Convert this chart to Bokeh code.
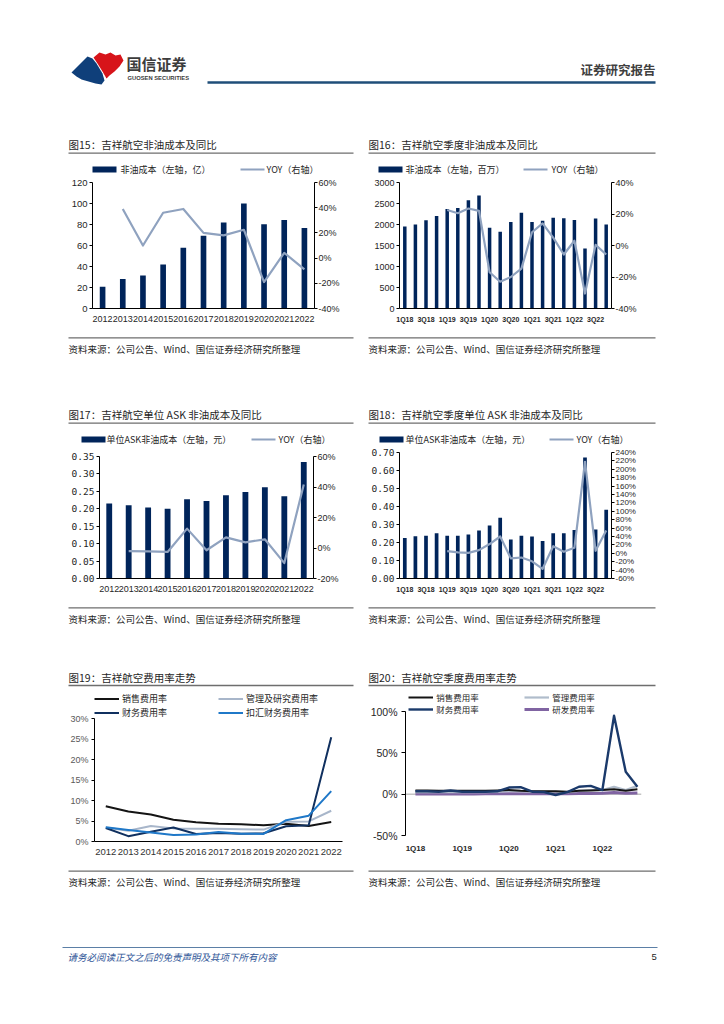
from bokeh.plotting import figure
from bokeh.models import (Range1d, LinearAxis, FixedTicker, NumeralTickFormatter, Legend,
                          LegendItem, FactorRange, Span, ColumnDataSource, Spacer)
from bokeh.layouts import column, row
from bokeh.embed import file_html
from bokeh.resources import INLINE
from bokeh.core.properties import value

NAN = float("nan")

# ---------------- data ----------------
years = ["2012", "2013", "2014", "2015", "2016", "2017", "2018", "2019", "2020", "2021", "2022"]
quarters = ["1Q18", "2Q18", "3Q18", "4Q18", "1Q19", "2Q19", "3Q19", "4Q19", "1Q20", "2Q20",
            "3Q20", "4Q20", "1Q21", "2Q21", "3Q21", "4Q21", "1Q22", "2Q22", "3Q22", "4Q22"]

# Fig 15: annual non-oil cost (100m yuan) and YoY
nonoil_cost_annual = [20.7, 28.0, 31.4, 41.8, 57.9, 69.2, 82.0, 100.0, 80.2, 84.3, 76.7]
nonoil_cost_annual_yoy = [NAN, 0.39, 0.10, 0.36, 0.39, 0.20, 0.18, 0.225, -0.19, 0.042, -0.09]

# Fig 16: quarterly non-oil cost (million yuan) and YoY
nonoil_cost_q = [1950, 2000, 2100, 2200, 2370, 2390, 2580, 2690, 1920, 1830,
                 2060, 2280, 2060, 2090, 2160, 2150, 2110, 1430, 2140, 2000]
nonoil_cost_q_yoy = [NAN, NAN, NAN, NAN, 0.225, 0.205, 0.235, 0.22, -0.17, -0.23,
                     -0.20, -0.147, 0.084, 0.14, 0.05, -0.057, 0.03, -0.305, 0.004, -0.057]

# Fig 17: annual unit ASK non-oil cost (yuan) and YoY
ask_cost_annual = [0.215, 0.210, 0.204, 0.200, 0.227, 0.222, 0.239, 0.248, 0.262, 0.236, 0.334]
ask_cost_annual_yoy = [NAN, -0.02, -0.022, -0.026, 0.127, -0.015, 0.07, 0.037, 0.057, -0.099, 0.416]

# Fig 18: quarterly unit ASK non-oil cost (yuan) and YoY
ask_cost_q = [0.225, 0.235, 0.238, 0.251, 0.238, 0.238, 0.244, 0.266, 0.294, 0.337,
              0.216, 0.238, 0.233, 0.209, 0.251, 0.251, 0.270, 0.672, 0.272, 0.382]
ask_cost_q_yoy = [NAN, NAN, NAN, NAN, 0.05, 0.02, 0.01, 0.075, 0.22, 0.40,
                  -0.12, -0.10, -0.19, -0.37, 0.17, 0.036, 0.13, 2.18, 0.06, 0.545]

# Fig 19: annual expense ratios
sales_rate = [0.086, 0.073, 0.066, 0.053, 0.047, 0.0435, 0.042, 0.0395, 0.043, 0.038, 0.0475]
admin_rd_rate = [0.034, 0.026, 0.038, 0.032, 0.031, 0.031, 0.030, 0.029, 0.048, 0.049, 0.075]
fin_rate = [0.033, 0.013, 0.024, 0.034, 0.0185, 0.021, 0.019, 0.020, 0.037, 0.0395, 0.254]
fin_ex_fx_rate = [0.035, 0.028, 0.022, 0.016, 0.017, 0.023, 0.019, 0.0185, 0.052, 0.063, 0.123]

# Fig 20: quarterly expense ratios
q_sales_rate = [0.045, 0.045, 0.04, 0.04, 0.04, 0.04, 0.04, 0.045, 0.05, 0.04,
                0.035, 0.035, 0.035, 0.03, 0.04, 0.045, 0.05, 0.06, 0.04, 0.06]
q_admin_rate = [0.025, 0.025, 0.025, 0.025, 0.025, 0.025, 0.025, 0.03, 0.04, 0.035,
                0.03, 0.03, 0.03, 0.025, 0.04, 0.05, 0.05, 0.09, 0.05, 0.10]
q_fin_rate = [0.035, 0.035, 0.03, 0.045, 0.03, 0.03, 0.03, 0.035, 0.08, 0.085,
              0.03, 0.025, -0.01, 0.025, 0.09, 0.10, 0.05, 0.95, 0.27, 0.09]
q_rd_rate = [0.002, 0.002, 0.003, 0.003, 0.003, 0.003, 0.004, 0.004, 0.005, 0.005,
             0.005, 0.005, 0.006, 0.006, 0.007, 0.008, 0.01, 0.02, 0.01, 0.015]

left_ticks_15 = [0, 20, 40, 60, 80, 100, 120]
right_ticks_15 = [-0.4, -0.2, 0, 0.2, 0.4, 0.6]
left_ticks_16 = [0, 500, 1000, 1500, 2000, 2500, 3000]
right_ticks_16 = [-0.4, -0.2, 0, 0.2, 0.4]
left_ticks_17 = [0, 0.05, 0.10, 0.15, 0.20, 0.25, 0.30, 0.35]
right_ticks_17 = [-0.2, 0, 0.2, 0.4, 0.6]
left_ticks_18 = [0, 0.1, 0.2, 0.3, 0.4, 0.5, 0.6, 0.7]
right_ticks_18 = [-0.6, -0.4, -0.2, 0, 0.2, 0.4, 0.6, 0.8, 1.0, 1.2, 1.4, 1.6, 1.8, 2.0, 2.2, 2.4]
ticks_19 = [0, 0.05, 0.10, 0.15, 0.20, 0.25, 0.30]
ticks_20 = [-0.5, 0, 0.5, 1.0]

titles = ["图15：吉祥航空非油成本及同比", "图16：吉祥航空季度非油成本及同比",
          "图17：吉祥航空单位 ASK 非油成本及同比", "图18：吉祥航空季度单位 ASK 非油成本及同比",
          "图19：吉祥航空费用率走势", "图20：吉祥航空季度费用率走势"]
bar_labels = ["非油成本（左轴，亿）", "非油成本（左轴，百万）",
              "单位ASK非油成本（左轴，元）", "单位ASK非油成本（左轴，元）"]
YOY_LABEL = "YOY（右轴）"
SOURCE = "资料来源：公司公告、Wind、国信证券经济研究所整理"
FOOTNOTE = "请务必阅读正文之后的免责声明及其项下所有内容"

# ---------------- style ----------------
NAVY = "#00245a"
YOYC = "#8fa2bf"
AXC = "#000000"
TXT = "#1f1f1f"
RULE = "#6e6e6e"
CJK = "Noto Sans CJK SC"
LAT = "Liberation Sans"
MONO = "DejaVu Sans Mono"
LX, RX = 68, 368          # left edge of left / right panel texts
LR, RR = 353, 655         # right end of left / right panel rules


def deco(y0, h):
    p = figure(width=708, height=h, x_range=Range1d(0, 708), y_range=Range1d(y0 + h, y0),
               output_backend="svg", toolbar_location=None, min_border=0,
               x_axis_location=None, y_axis_location=None)
    p.xgrid.visible = False
    p.ygrid.visible = False
    p.outline_line_color = None
    return p


def txt(p, x, y, s, size, color=TXT, font=CJK, style="normal", align="left"):
    p.text(x=[x], y=[y], text=[s], text_font=value(font), text_font_size=size,
           text_color=color, text_font_style=style, text_align=align, text_baseline="middle")


def hline(p, x0, x1, y, color=RULE, width=1.3):
    p.line(x=[x0, x1], y=[y, y], line_color=color, line_width=width)


def title_block(p, x, ty, r1, ry, s):
    txt(p, x, ty, s, "10.5px")
    hline(p, x, r1, ry)


def source_block(p, x, ry, r1, sy):
    hline(p, x, r1, ry)
    txt(p, x, sy, SOURCE, "9.5px")


def key_row(p, y, bx, tx1, lx, tx2, s1):
    # bar + line key for the dual-axis charts
    p.quad(left=[bx], right=[bx + 24], top=[y - 3], bottom=[y + 3], fill_color=NAVY, line_color=None)
    txt(p, tx1, y, s1, "9px", color="#262626")
    hline(p, lx, lx + 24, y, color=YOYC, width=2.2)
    txt(p, tx2, y, YOY_LABEL, "9px", color="#262626")


def base_fig(w, h, bl, br, bt, bb, x_range, y_range):
    p = figure(width=w, height=h, x_range=x_range, y_range=y_range,
               output_backend="svg", toolbar_location=None,
               min_border_left=bl, min_border_right=br, min_border_top=bt, min_border_bottom=bb)
    p.xgrid.visible = False
    p.ygrid.visible = False
    p.outline_line_color = None
    return p


def style_axis(ax, font=LAT, size="9px", color=TXT, tick_out=3, standoff=2, bold=False, line=True):
    ax.major_label_text_font = font
    ax.major_label_text_font_size = size
    ax.major_label_text_color = color
    ax.major_label_text_font_style = "bold" if bold else "normal"
    ax.axis_line_color = AXC if line else None
    ax.axis_line_width = 1
    ax.major_tick_line_color = AXC if tick_out else None
    ax.major_tick_out = tick_out
    ax.major_tick_in = 0
    ax.minor_tick_line_color = None
    ax.major_label_standoff = standoff


def bar_yoy(w, h, bl, br, bt, bb, cats, bars, yoy, ymax, lticks, lfmt, lfont, lsize,
            rmin, rmax, rticks, rsize, bar_w, xsize, xbold, quarterly):
    if quarterly:
        xs = list(range(len(cats)))
        xr = Range1d(-0.5, len(cats) - 0.5)
    else:
        xs = cats
        xr = FactorRange(factors=cats)
    p = base_fig(w, h, bl, br, bt, bb, xr, Range1d(0, ymax))
    p.extra_y_ranges = {"yoy": Range1d(rmin, rmax)}
    src = ColumnDataSource(dict(x=xs, v=bars, yoy=yoy))
    p.vbar(x="x", top="v", width=bar_w, source=src, fill_color=NAVY, line_color=None)
    p.line(x="x", y="yoy", source=src, y_range_name="yoy", line_color=YOYC,
           line_width=2.2, line_join="round")
    p.yaxis.ticker = FixedTicker(ticks=lticks)
    if lfmt:
        p.yaxis.formatter = NumeralTickFormatter(format=lfmt)
    style_axis(p.yaxis[0], font=lfont, size=lsize, tick_out=3, standoff=2)
    ra = LinearAxis(y_range_name="yoy", ticker=FixedTicker(ticks=rticks),
                    formatter=NumeralTickFormatter(format="0%"))
    style_axis(ra, size=rsize, tick_out=3, standoff=1)
    p.add_layout(ra, "right")
    if quarterly:
        p.xaxis.ticker = FixedTicker(ticks=xs[::2])
        p.xaxis.major_label_overrides = {i: cats[i] for i in xs[::2]}
    style_axis(p.xaxis[0], size=xsize, tick_out=0, standoff=7, bold=xbold)
    return p


def make_legend(items, loc, label_width, label_height, spacing, size):
    return Legend(items=items, orientation="horizontal", location=loc, padding=0, margin=0,
                  spacing=spacing, label_width=label_width, label_height=label_height,
                  glyph_width=25, glyph_height=label_height, label_standoff=3, ncols=2,
                  label_text_font=CJK, label_text_font_size=size, label_text_color="#262626",
                  border_line_color=None, background_fill_alpha=0)


# ---------------- band 0: header + row-1 titles and keys (page y 0..176) ----------------
band0 = deco(0, 176)
blue_x = [71, 79, 87, 92, 96, 99, 102, 104, 101, 95, 88, 81, 76]
blue_y = [72, 64, 56, 58, 63, 68, 73, 80, 84, 83, 81, 79, 76]
red_x = [93, 99, 105, 110, 115, 120, 123, 119, 114, 109, 106, 102, 97]
red_y = [57, 52, 54, 52, 55, 54, 60, 66, 71, 75, 78, 71, 63]
band0.patch(x=blue_x, y=blue_y, fill_color="#0f3f7a", line_color=None)
band0.patch(x=red_x, y=red_y, fill_color="#d7141a", line_color=None)
txt(band0, 126, 63, "国信证券", "15px", color="#3c3c3c", style="bold")
txt(band0, 127, 77.5, "GUOSEN SECURITIES", "5.8px", color="#3c3c3c", font=LAT, style="bold")
txt(band0, 580, 69, "证券研究报告", "12.5px", color="#404040", style="bold")
hline(band0, 207, 655, 82, color="#1f4e79", width=2.5)
title_block(band0, LX, 144, LR, 152.7, titles[0])
title_block(band0, RX, 144, RR, 152.7, titles[1])
key_row(band0, 169, 92, 120, 240, 266, bar_labels[0])
key_row(band0, 169, 378, 405, 523, 551, bar_labels[1])

# ---------------- row 1 charts (page y 176..330) ----------------
p15 = bar_yoy(296, 154, 30, 44, 6, 22, years, nonoil_cost_annual, nonoil_cost_annual_yoy, 120,
              left_ticks_15, None, LAT, "9.5px", -0.4, 0.6, right_ticks_15, "9px", 0.28,
              "9px", False, False)
p16 = bar_yoy(304, 154, 41, 51, 6, 22, quarters, nonoil_cost_q, nonoil_cost_q_yoy, 3000,
              left_ticks_16, None, LAT, "9px", -0.4, 0.4, right_ticks_16, "9px", 0.33,
              "7px", True, True)

# ---------------- band 1 (page y 330..446) ----------------
band1 = deco(330, 116)
source_block(band1, LX, 337.3, LR, 348.3)
source_block(band1, RX, 337.3, RR, 348.3)
title_block(band1, LX, 414, LR, 422.7, titles[2])
title_block(band1, RX, 414, RR, 422.7, titles[3])
key_row(band1, 439, 81, 106, 251, 278, bar_labels[2])
key_row(band1, 439, 379, 405, 549, 576, bar_labels[3])

# ---------------- row 2 charts (page y 446..600) ----------------
p17 = bar_yoy(296, 154, 37, 45, 10, 22, years, ask_cost_annual, ask_cost_annual_yoy, 0.35,
              left_ticks_17, "0.00", MONO, "9.5px", -0.2, 0.6, right_ticks_17, "9px", 0.3,
              "9px", False, False)
p18 = bar_yoy(304, 154, 41, 51, 6, 22, quarters, ask_cost_q, ask_cost_q_yoy, 0.7,
              left_ticks_18, "0.00", MONO, "9.5px", -0.6, 2.4, right_ticks_18, "8px", 0.35,
              "7px", True, True)

# ---------------- band 2 (page y 600..688) ----------------
band2 = deco(600, 88)
source_block(band2, LX, 607.3, LR, 618.3)
source_block(band2, RX, 607.3, RR, 618.3)
title_block(band2, LX, 676.7, LR, 685, titles[4])
title_block(band2, RX, 676.7, RR, 685, titles[5])

# ---------------- row 3 charts (page y 688..868) ----------------
# frame of fig 19: page y 688..841, value axis 0..30% occupies 718..841
y19_end = 0.30 + (718 - 688) * 0.30 / (841 - 718)
p19 = base_fig(296, 180, 32, 16, 0, 27, FactorRange(factors=years), Range1d(0, y19_end))
src19 = ColumnDataSource(dict(x=years, s=sales_rate, a=admin_rd_rate, f=fin_rate, fx=fin_ex_fx_rate))
r_s = p19.line(x="x", y="s", source=src19, line_color="#141414", line_width=2, line_join="round")
r_a = p19.line(x="x", y="a", source=src19, line_color="#a8b6ca", line_width=2, line_join="round")
r_f = p19.line(x="x", y="f", source=src19, line_color="#10305f", line_width=2, line_join="round")
r_fx = p19.line(x="x", y="fx", source=src19, line_color="#1f78c8", line_width=2, line_join="round")
p19.yaxis.ticker = FixedTicker(ticks=ticks_19)
p19.yaxis.bounds = (ticks_19[0], ticks_19[-1])
p19.yaxis.formatter = NumeralTickFormatter(format="0%")
style_axis(p19.yaxis[0], size="9px", color="#595959", tick_out=3, standoff=3)
style_axis(p19.xaxis[0], size="9.5px", color="#333333", tick_out=0, standoff=7)
p19.add_layout(make_legend([LegendItem(label="销售费用率", renderers=[r_s]),
                            LegendItem(label="管理及研究费用率", renderers=[r_a]),
                            LegendItem(label="财务费用率", renderers=[r_f]),
                            LegendItem(label="扣汇财务费用率", renderers=[r_fx])],
                           (0, 122), 95, 13, 1, "9px"))

# frame of fig 20: page y 688..835, value axis -50%..100% occupies 711..835
y20_end = 1.0 + (711 - 688) * 1.5 / (835 - 711)
qx = list(range(len(quarters)))
p20 = base_fig(304, 180, 47, 21, 0, 33, Range1d(-0.85, 19.35), Range1d(-0.5, y20_end))
src20 = ColumnDataSource(dict(x=qx, s=q_sales_rate, a=q_admin_rate, f=q_fin_rate, r=q_rd_rate))
p20.add_layout(Span(location=0, dimension="width", line_color="#a6a6a6", line_width=1, level="underlay"))
r20_r = p20.line(x="x", y="r", source=src20, line_color="#8064a2", line_width=3, line_join="round")
r20_a = p20.line(x="x", y="a", source=src20, line_color="#b0bccb", line_width=2.2, line_join="round")
r20_s = p20.line(x="x", y="s", source=src20, line_color="#141414", line_width=2, line_join="round")
r20_f = p20.line(x="x", y="f", source=src20, line_color="#1b3a6b", line_width=2.4, line_join="round")
p20.yaxis.ticker = FixedTicker(ticks=ticks_20)
p20.yaxis.bounds = (ticks_20[0], ticks_20[-1])
p20.yaxis.formatter = NumeralTickFormatter(format="0%")
style_axis(p20.yaxis[0], size="10.5px", color="#262626", tick_out=4, standoff=4)
p20.xaxis.ticker = FixedTicker(ticks=qx[::4])
p20.xaxis.major_label_overrides = {i: quarters[i] for i in qx[::4]}
style_axis(p20.xaxis[0], size="8px", color="#262626", tick_out=0, standoff=8, bold=True, line=False)
p20.add_layout(make_legend([LegendItem(label="销售费用率", renderers=[r20_s]),
                            LegendItem(label="管理费用率", renderers=[r20_a]),
                            LegendItem(label="财务费用率", renderers=[r20_f]),
                            LegendItem(label="研发费用率", renderers=[r20_r])],
                           (3.3, 119.7), 88, 12, 0, "8.5px"))

# ---------------- band 3: row-3 sources + footer (page y 868..1000) ----------------
band3 = deco(868, 132)
source_block(band3, LX, 870.7, LR, 881.7)
source_block(band3, RX, 870.7, RR, 881.7)
hline(band3, 62, 657, 947, color="#5b7fa6", width=1)
txt(band3, 67, 956, FOOTNOTE, "9.5px", color="#2f5597", style="italic")
txt(band3, 651, 956, "5", "9.5px", color="#1f1f1f", font=LAT)


def prow(h, left, right):
    return row(Spacer(width=62, height=h), column(left), column(right), Spacer(width=46, height=h))


page = column(
    band0,
    prow(154, p15, p16),
    band1,
    prow(154, p17, p18),
    band2,
    prow(180, p19, p20),
    band3,
)

open("out.html", "w").write(file_html(page, INLINE))
